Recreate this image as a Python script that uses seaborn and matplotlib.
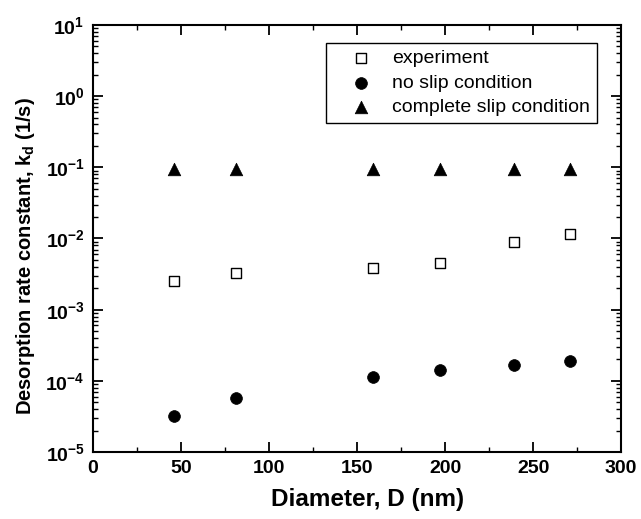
import matplotlib
matplotlib.use("Agg")
import matplotlib.pyplot as plt
import seaborn as sns
import pandas as pd
from matplotlib.ticker import MultipleLocator, LogLocator, FixedLocator, FixedFormatter, NullFormatter

diameter = [46, 81, 159, 197, 239, 271]
experiment = [2.54e-3, 3.3e-3, 3.83e-3, 4.5e-3, 8.95e-3, 1.17e-2]
no_slip = [3.2e-5, 5.7e-5, 1.14e-4, 1.40e-4, 1.69e-4, 1.91e-4]
complete_slip = [0.096, 0.096, 0.096, 0.096, 0.096, 0.096]
series_names = ["experiment", "no slip condition", "complete slip condition"]
x_ticks = [0, 50, 100, 150, 200, 250, 300]
y_ticks = [1e-5, 1e-4, 1e-3, 1e-2, 1e-1, 1e0, 1e1]
y_tick_labels = [r"$\mathbf{10^{-5}}$", r"$\mathbf{10^{-4}}$", r"$\mathbf{10^{-3}}$",
                 r"$\mathbf{10^{-2}}$", r"$\mathbf{10^{-1}}$", r"$\mathbf{10^{0}}$",
                 r"$\mathbf{10^{1}}$"]

sns.set_theme(style="ticks")
plt.rcParams["font.family"] = ["Liberation Sans", "DejaVu Sans"]
plt.rcParams["mathtext.fontset"] = "custom"
plt.rcParams["mathtext.rm"] = "Liberation Sans"
plt.rcParams["mathtext.bf"] = "Liberation Sans:bold"
plt.rcParams["mathtext.it"] = "Liberation Sans:italic"
for key in ["text.color", "axes.labelcolor", "xtick.color", "ytick.color", "axes.edgecolor"]:
    plt.rcParams[key] = "black"

fig = plt.figure(figsize=(6.41, 5.19), dpi=100)
ax = fig.add_axes([0.145, 0.129, 0.824, 0.823])

df_exp = pd.DataFrame({"D": diameter, "k": experiment})
df_ns = pd.DataFrame({"D": diameter, "k": no_slip})
df_cs = pd.DataFrame({"D": diameter, "k": complete_slip})

sns.scatterplot(data=df_exp, x="D", y="k", ax=ax, marker="s", s=44,
                facecolor="white", edgecolor="black", linewidth=1.0, label=series_names[0])
sns.scatterplot(data=df_ns, x="D", y="k", ax=ax, marker="o", s=72,
                color="black", edgecolor="black", linewidth=0.5, label=series_names[1])
sns.scatterplot(data=df_cs, x="D", y="k", ax=ax, marker="^", s=82,
                color="black", edgecolor="black", linewidth=0.5, label=series_names[2])

ax.set_yscale("log")
ax.set_xlim(0, 300)
ax.set_ylim(1e-5, 1e1)
ax.xaxis.set_major_locator(FixedLocator(x_ticks))
ax.xaxis.set_minor_locator(MultipleLocator(25))
ax.yaxis.set_major_locator(FixedLocator(y_ticks))
ax.yaxis.set_major_formatter(FixedFormatter(y_tick_labels))
ax.yaxis.set_minor_locator(LogLocator(base=10, subs=range(2, 10), numticks=20))
ax.yaxis.set_minor_formatter(NullFormatter())

for sp in ax.spines.values():
    sp.set_linewidth(1.5)
    sp.set_color("black")
    sp.set_visible(True)
ax.tick_params(which="major", direction="in", length=7, width=1.3, top=True, right=True,
               labelsize=14, colors="black", pad=6)
ax.tick_params(which="minor", direction="in", length=3.5, width=1.0, top=True, right=True)
for lbl in ax.get_xticklabels():
    lbl.set_fontweight("bold")

ax.set_xlabel("Diameter, D (nm)", fontsize=17.5, fontweight="bold", labelpad=8)
ax.set_ylabel(r"Desorption rate constant, k$_\mathbf{d}$ (1/s)", fontsize=14.5,
              fontweight="bold", labelpad=6)
ax.xaxis.set_label_coords(0.52, -0.085)
ax.yaxis.set_label_coords(-0.105, 0.46)

leg = ax.legend(loc="upper right", bbox_to_anchor=(0.9545, 0.958), borderaxespad=0,
                fontsize=14, frameon=True, fancybox=False, edgecolor="black", framealpha=1,
                handletextpad=0.15, borderpad=0.35, labelspacing=0.35, handlelength=2.9)
leg.get_frame().set_linewidth(1.0)

fig.savefig("out.png", dpi=100)
